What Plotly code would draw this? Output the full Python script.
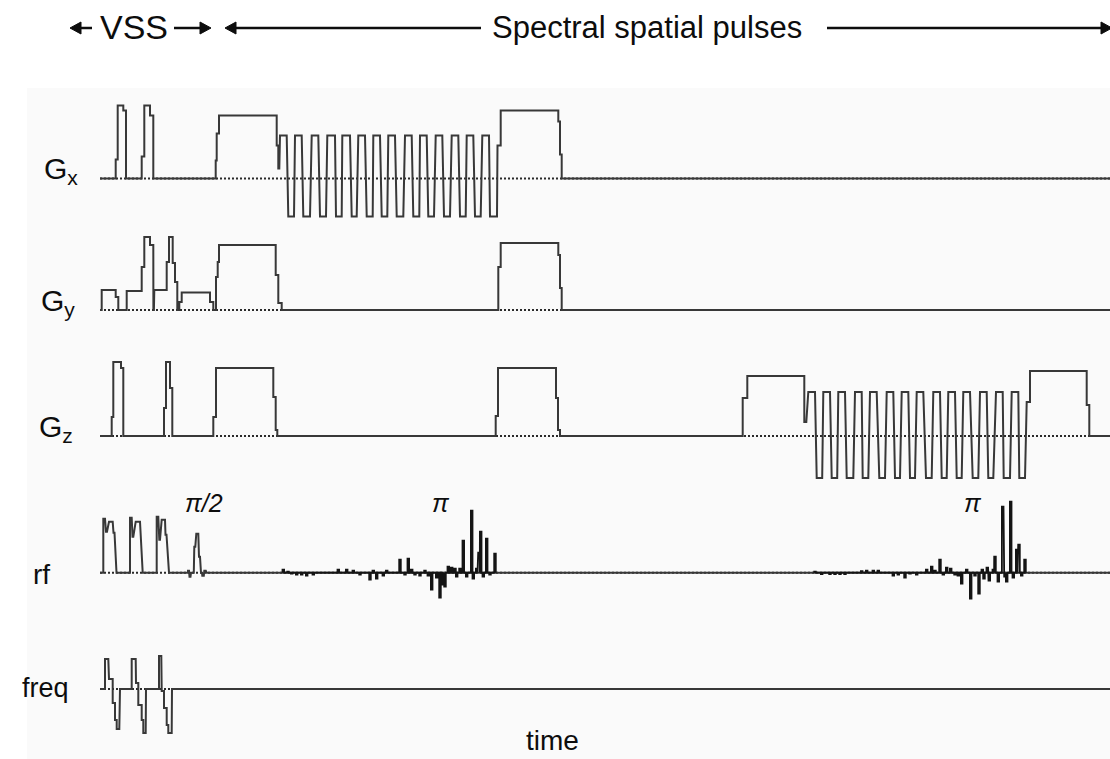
import plotly.graph_objects as go

# ---------------- data (time in arbitrary units, amplitude in arbitrary units) -------------
T_START, T_END = 100, 1110

# plateaus: (t_start, t_end, amplitude)
GX_LEVELS = [
    (100, 115.7, 0), (115.7, 117.7, 19), (117.7, 123.3, 73), (123.3, 126, 68),
    (126, 141.7, 0), (141.7, 144.3, 22), (144.3, 150, 73), (150, 153.3, 63),
    (153.3, 215.7, 0), (215.7, 216.7, 18), (216.7, 219, 45), (219, 276.7, 63),
    (276.7, 278.3, 33), (278.3, 279.3, 10),
    (280, 286.7, 43), (288.3, 294, -38), (295, 301.7, 43), (303.3, 310, -38),
    (311.7, 318.3, 43), (320, 326, -38), (327.3, 335, 43), (336, 341.7, -38),
    (342.3, 350, 43), (351.7, 356.7, -38), (358.3, 365, 43), (366.7, 372.7, -38),
    (373.3, 380, 43), (381.7, 387.3, -38), (388.3, 395, 43), (396.7, 403.3, -38),
    (405, 411.7, 43), (413.3, 419.3, -38), (420, 426.7, 43), (428.3, 434, -38),
    (435.7, 442.3, 43), (444, 450, -38), (451.7, 458.3, 43), (460, 465.7, -38),
    (466.7, 473.3, 43), (475, 480.7, -38), (482.3, 489, 43), (490, 497, -38),
    (497.5, 500.7, 33), (500.7, 558.3, 68), (558.3, 560, 57), (560, 561.7, 24),
    (561.7, 1110, 0),
]

GY_LEVELS = [
    (100, 101.7, 0), (101.7, 115.7, 20), (115.7, 118.3, 13), (118.3, 126.7, 0),
    (126.7, 141.7, 19), (141.7, 144.3, 43), (144.3, 150, 73), (150, 153.3, 65),
    (153.4, 153.9, 0), (154.3, 166.7, 20), (166.7, 169, 48), (169, 172.7, 73),
    (172.7, 175, 47), (175, 177.3, 28), (177.3, 179.3, 0), (179.3, 181.7, 8),
    (181.7, 210, 17.5), (210, 213.3, 8), (213.3, 216, 0),
    (216, 217.7, 33), (217.7, 219, 48), (219, 275.7, 65), (275.7, 278.3, 35),
    (278.3, 281.7, 7), (281.7, 498.3, 0),
    (498.3, 500.7, 43), (500.7, 558.3, 67), (558.3, 560, 55), (560, 561.7, 22),
    (561.7, 1110, 0),
]

GZ_LEVELS = [
    (100, 111.7, 0), (111.7, 113.3, 19), (113.3, 121, 74), (121, 123.3, 68),
    (123.3, 164, 0), (164, 166, 28), (166, 170, 74), (170, 172.3, 48),
    (172.3, 213.3, 0), (213.3, 216, 19), (216, 273.3, 68), (273.3, 275.7, 39),
    (275.7, 277.3, 6), (277.3, 495.7, 0),
    (495.7, 498, 20), (498, 556, 68), (556, 558, 38), (558, 560, 6), (560, 742.7, 0),
    (742.7, 747.3, 38), (747.3, 804.3, 60), (804.3, 806.3, 14),
    (808.3, 815, 44), (816.7, 822.2, -42), (823.3, 830, 44), (831.7, 837.2, -42),
    (838.3, 845, 44), (846.7, 853.3, -42), (855, 861.7, 44), (862.7, 868.3, -42),
    (870, 876.7, 44), (879.3, 885, -42), (886.7, 893.3, 44), (895, 900, -42),
    (901.7, 908.3, 44), (910, 915, -42), (916.7, 923.3, 44), (926, 931.7, -42),
    (933.3, 940, 44), (941.7, 946.7, -42), (948.3, 955, 44), (956.7, 961.7, -42),
    (963.3, 970, 44), (972.7, 978.3, -42), (980, 986.7, 44), (988.3, 993.3, -42),
    (996, 1002.7, 44), (1003.7, 1010, -42), (1011.7, 1018.3, 44), (1019.3, 1025, -42),
    (1026.7, 1030, 34), (1030, 1086.7, 65), (1086.7, 1089.3, 31), (1089.3, 1110, 0),
]

RF_LEVELS = [
    (100, 103.3, 0), (103.3, 105, 54), (106, 107, 41), (109, 112.7, 51), (113.5, 114.5, 40),
    (116.5, 130, 0), (130, 131.7, 55), (132.5, 133.3, 36), (135.7, 140, 51),
    (142.7, 156.7, 0), (156.7, 158.3, 56), (159.3, 160, 33), (161.7, 165, 53),
    (165.5, 166.5, 38), (169, 188, 0),
    (188, 189, 2), (189.5, 190.5, -4), (191, 193.8, 0), (194.3, 195.3, 26),
    (196.3, 198.3, 39), (199, 200, 16), (201, 202, 0), (202.3, 203.8, -3),
    (204.3, 205.8, 2), (206.5, 1110, 0),
]

# spectral-spatial pi pulse sub-pulses: times and amplitudes
RF_PI1_T = [283.3, 288, 291.7, 296.7, 301.7, 306.7, 313.3, 338.3, 346.7, 353.3, 360,
            370, 373.3, 376.7, 383.3, 386.7, 400, 405, 408.3, 411.7, 415, 420, 425,
            428.3, 431.7, 436.7, 440, 443.3, 445, 448.3, 451.7, 455, 456.7, 460,
            463.3, 466.7, 471.7, 473.3, 476.7, 479, 480.7, 483.3, 486.7, 490, 495]
RF_PI1_A = [3, 1, -1, -2, -2, -3, -2, 3, 3, 2, -2,
            -7, 2, -6, -3, 2, 13, -2, 14, 3, -2, -3, 2,
            -3, -17, -5, -25, -12, -14, 6, 5, 4, -4, 4,
            32, -4, 62, -6, 4, 20, 41, -4, 34, -2, 19]

RF_PI2_T = [815, 821.7, 830, 835, 840, 845, 861.7, 866.7, 873.3, 878.3, 893.3,
            898.3, 905, 910, 916.7, 926.7, 931.7, 935, 940, 943.3, 946.7, 950.7,
            955, 958.3, 961.7, 966.7, 970.7, 975, 979, 982.3, 984, 987.3, 989.3,
            993.3, 995, 998.3, 1002.7, 1005, 1006.7, 1010.7, 1013.3, 1016.7, 1019,
            1021.7, 1025]
RF_PI2_A = [1, -1.5, -1.5, -1.5, -1.5, -1.5, 1.5, 2, 2, 2, -3,
            -2, -5, -1, -2, 3, 6, 2, 13, -2, 5, 4,
            -2, -3, -11, 3, -26, -3, -21, 3, -6, 5, -8,
            3, 16, -9, 66, -4, -9, 71, -5, 23, 28,
            -3, 13]

FREQ_LEVELS = [
    (100, 105, 0), (105, 108.3, 30), (109, 112.7, 10), (112.7, 115, -14),
    (115, 116.7, -31), (116.7, 119.3, -40), (120, 131.7, 0),
    (131.7, 135.7, 30), (136, 138.3, 6), (138.3, 141.7, -16), (141.7, 143.3, -31),
    (143.3, 145.7, -44), (146, 159, 0),
    (159, 161.3, 33), (161.7, 164, -2), (164, 166.7, -19), (166.7, 168.3, -36),
    (168.3, 171.7, -44), (172, 1110, 0),
]

CHANNEL_NAMES = ["G<sub>x</sub>", "G<sub>y</sub>", "G<sub>z</sub>", "rf", "freq"]
PULSE_LABELS = ["<i>π/2</i>", "<i>π</i>", "<i>π</i>"]
PULSE_LABEL_T = [204, 441, 973]
HEADER_LABELS = ["VSS", "Spectral spatial pulses"]

# ---------------- layout constants ----------------
W, H = 1110, 759
BASE = {"Gx": 178.5, "Gy": 310, "Gz": 436, "rf": 572.7, "freq": 689}
LINE_COLOR = "#383838"
TEXT_COLOR = "#0d0d0d"
FONT = "Liberation Sans, Arial, sans-serif"


def levels_path(levels, base):
    xs, ys = [], []
    for t0, t1, a in levels:
        xs += [t0, t1]
        ys += [base - a, base - a]
    return xs, ys


def spikes_path(ts, amps, base, w=1.6):
    xs, ys = [], []
    for t, a in zip(ts, amps):
        xs += [t - w / 2, t - w / 2, t + w / 2, t + w / 2]
        ys += [base, base - a, base - a, base]
    return xs, ys


fig = go.Figure()

# dotted baselines
for key in ["Gx", "Gy", "Gz", "rf", "freq"]:
    fig.add_trace(go.Scatter(
        x=[T_START, T_END], y=[BASE[key], BASE[key]], mode="lines",
        line=dict(color="#2a2a2a", width=2, dash="2px,2px"),
        hoverinfo="skip", showlegend=False))

for key, lev in [("Gx", GX_LEVELS), ("Gy", GY_LEVELS), ("Gz", GZ_LEVELS),
                 ("rf", RF_LEVELS), ("freq", FREQ_LEVELS)]:
    xs, ys = levels_path(lev, BASE[key])
    fig.add_trace(go.Scatter(x=xs, y=ys, mode="lines",
                             line=dict(color=LINE_COLOR, width=2),
                             hoverinfo="skip", showlegend=False))

for ts, amps in [(RF_PI1_T, RF_PI1_A), (RF_PI2_T, RF_PI2_A)]:
    xs, ys = spikes_path(ts, amps, BASE["rf"])
    fig.add_trace(go.Scatter(x=xs, y=ys, mode="lines",
                             line=dict(color="#141414", width=1.8),
                             hoverinfo="skip", showlegend=False))

ann = []
# channel labels
label_pos = [(42, 170, 30), (39, 302, 30), (37, 428, 30), (31, 574, 28), (20, 688, 27)]
for name, (x, y, fs) in zip(CHANNEL_NAMES, label_pos):
    ann.append(dict(x=x, y=y, text=name, xanchor="left", yanchor="middle",
                    showarrow=False, font=dict(family=FONT, size=fs, color=TEXT_COLOR)))

# pulse labels
for txt, x in zip(PULSE_LABELS, PULSE_LABEL_T):
    ann.append(dict(x=x, y=503, text=txt, xanchor="center", yanchor="middle",
                    showarrow=False, font=dict(family=FONT, size=25, color=TEXT_COLOR)))

ann.append(dict(x=552, y=740, text="time", xanchor="center", yanchor="middle",
                showarrow=False, font=dict(family=FONT, size=28, color=TEXT_COLOR)))

# header
ann.append(dict(x=134, y=27, text=HEADER_LABELS[0], xanchor="center", yanchor="middle",
                showarrow=False, font=dict(family=FONT, size=34, color=TEXT_COLOR)))
ann.append(dict(x=647, y=27, text=HEADER_LABELS[1], xanchor="center",
                yanchor="middle", showarrow=False,
                font=dict(family=FONT, size=31, color=TEXT_COLOR)))

shapes = [dict(type="rect", xref="x", yref="y", x0=27, y0=88, x1=W, y1=H,
               fillcolor="#fafafa", line=dict(width=0), layer="below")]

# header arrows: (tip x, tail x)
HY = 28
for tip, tail in [(70, 92), (211, 174), (225, 481), (1112, 827)]:
    d = 1 if tail > tip else -1
    base_x = tip + d * 11
    shapes.append(dict(type="line", xref="x", yref="y", x0=tail, y0=HY, x1=base_x, y1=HY,
                       line=dict(color=TEXT_COLOR, width=2.5)))
    shapes.append(dict(type="path", xref="x", yref="y",
                       path=f"M {tip},{HY} L {base_x},{HY - 6} L {base_x},{HY + 6} Z",
                       fillcolor=TEXT_COLOR, line=dict(color=TEXT_COLOR, width=1)))

fig.update_layout(
    width=W, height=H, margin=dict(l=0, r=0, t=0, b=0),
    paper_bgcolor="white", plot_bgcolor="white",
    xaxis=dict(range=[0, W], visible=False, fixedrange=True),
    yaxis=dict(range=[H, 0], visible=False, fixedrange=True),
    annotations=ann,
    shapes=shapes,
)

fig.write_html("out.html")
